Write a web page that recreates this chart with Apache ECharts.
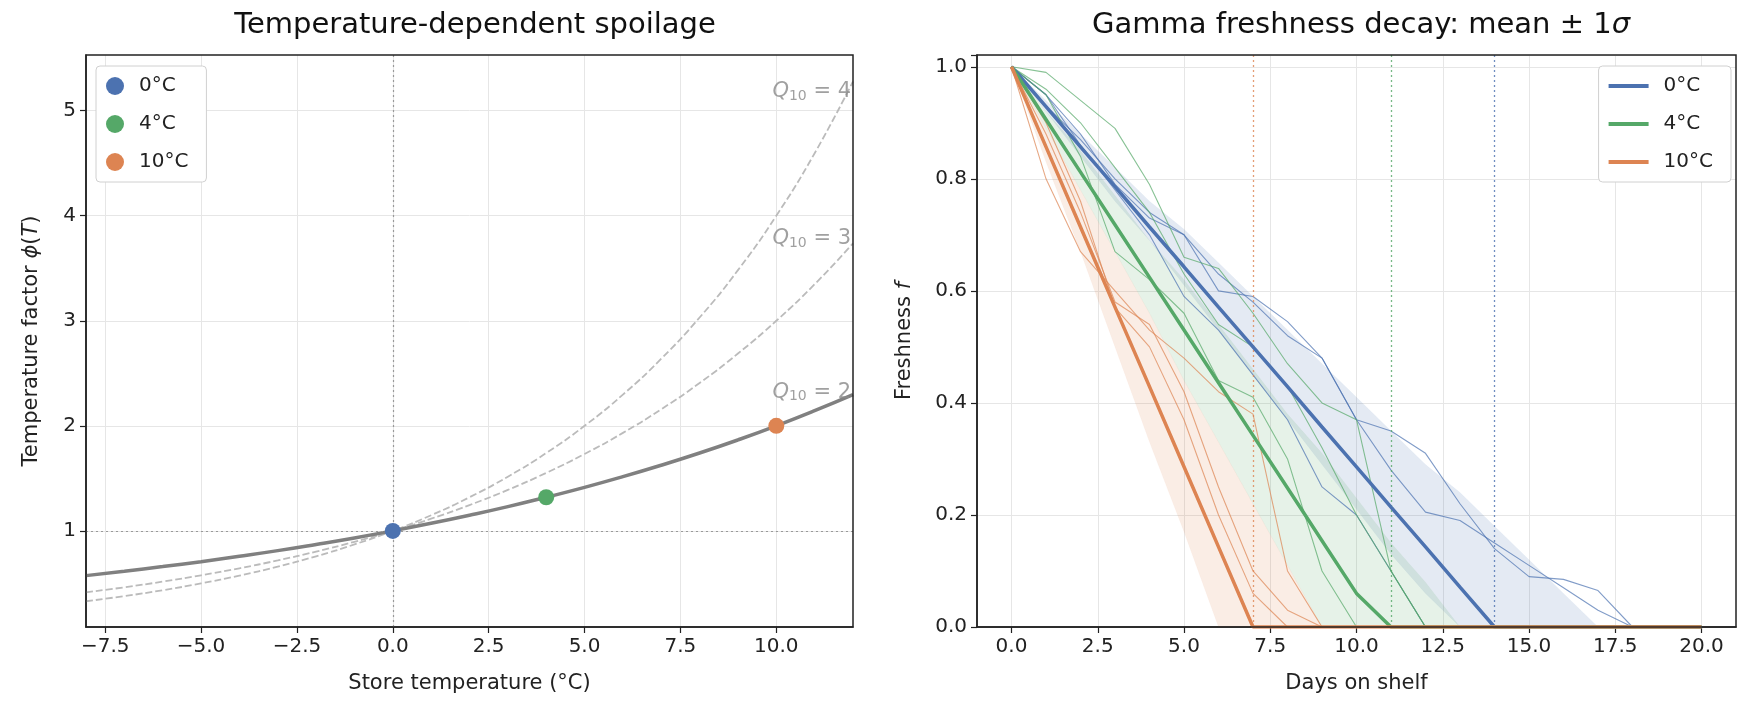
<!DOCTYPE html>
<html><head><meta charset="utf-8">
<script src="https://cdn.jsdelivr.net/npm/echarts@6/dist/echarts.min.js"></script>
<style>html,body{margin:0;padding:0;background:#fff}#c{width:1761px;height:722px}</style>
</head><body><div id="c"></div>
<script>
const temps = [-8,-7,-6,-5,-4,-3,-2,-1,0,1,2,3,4,5,6,7,8,9,10,11,12];
const q2 = [0.574,0.616,0.660,0.707,0.758,0.812,0.871,0.933,1,1.072,1.149,1.231,1.320,1.414,1.516,1.625,1.741,1.866,2,2.144,2.297];
const q3 = [0.415,0.463,0.517,0.577,0.644,0.719,0.803,0.896,1,1.116,1.246,1.390,1.552,1.732,1.933,2.158,2.408,2.688,3,3.348,3.737];
const q4 = [0.330,0.379,0.435,0.5,0.574,0.660,0.758,0.871,1,1.149,1.320,1.516,1.741,2,2.297,2.639,3.031,3.482,4,4.595,5.278];
const storeTemps = [0,4,10];
const storeFactor = [1,1.32,2];
const names = ['0°C','4°C','10°C'];
const colors = ['#4c72b0','#55a868','#dd8452'];
const leftXTicks = [-7.5,-5,-2.5,0,2.5,5,7.5,10];
const leftYTicks = [1,2,3,4,5];
const rightXTicks = [0,2.5,5,7.5,10,12.5,15,17.5,20];
const days = [0,1,2,3,4,5,6,7,8,9,10,11,12,13,14,15,16,17,18,19,20];
const meanF = [
 [1,.929,.857,.786,.714,.643,.571,.5,.429,.357,.286,.214,.143,.071,0,0,0,0,0,0,0],
 [1,.906,.812,.718,.624,.53,.436,.342,.248,.154,.06,0,0,0,0,0,0,0,0,0,0],
 [1,.857,.714,.571,.429,.286,.143,0,0,0,0,0,0,0,0,0,0,0,0,0,0]];
const upperF = [
 [1,.94,.88,.82,.76,.71,.65,.59,.53,.47,.41,.35,.29,.24,.18,.12,.06,0,0,0,0],
 [1,.92,.85,.77,.69,.62,.54,.46,.38,.31,.23,.15,.08,0,0,0,0,0,0,0,0],
 [1,.89,.78,.67,.56,.44,.33,.22,.11,0,0,0,0,0,0,0,0,0,0,0,0]];
const lowerF = [
 [1,.92,.84,.76,.69,.61,.53,.45,.37,.29,.21,.13,.06,0,0,0,0,0,0,0,0],
 [1,.89,.78,.67,.56,.44,.33,.22,.11,0,0,0,0,0,0,0,0,0,0,0,0],
 [1,.83,.67,.5,.33,.17,0,0,0,0,0,0,0,0,0,0,0,0,0,0,0]];
const samplesF = [
 [[1,.95,.88,.79,.73,.70,.60,.59,.545,.48,.37,.35,.31,.22,.14,.09,.085,.065,0,0,0],
  [1,.93,.87,.80,.74,.70,.63,.58,.52,.48,.37,.28,.205,.19,.15,.11,.07,.03,0,0,0],
  [1,.95,.86,.78,.70,.59,.53,.45,.37,.25,.20,.10,0,0,0,0,0,0,0,0,0]],
 [[1,.99,.94,.89,.79,.66,.64,.56,.47,.40,.37,.10,0,0,0,0,0,0,0,0,0],
  [1,.96,.90,.82,.74,.63,.54,.50,.43,.32,.20,.10,0,0,0,0,0,0,0,0,0],
  [1,.95,.84,.67,.62,.56,.44,.41,.30,.10,0,0,0,0,0,0,0,0,0,0,0]],
 [[1,.80,.67,.60,.53,.48,.42,.38,.10,0,0,0,0,0,0,0,0,0,0,0,0],
  [1,.88,.74,.58,.54,.42,.25,.10,.03,0,0,0,0,0,0,0,0,0,0,0,0],
  [1,.90,.76,.57,.50,.37,.20,.06,0,0,0,0,0,0,0,0,0,0,0,0,0]]];
const shelfLife = [14,11,7];
const qLabels = [{t:'4',x:11.95,y:5.18},{t:'3',x:11.95,y:3.78},{t:'2',x:11.95,y:2.32}];

const FONT = 'DejaVu Sans';
const fmtMinus = v => (v<0?'\u2212':'') + Math.abs(v).toFixed(1);
const gridLine = {show:true, lineStyle:{color:'#e6e6e6', width:1}};
const axisLine = {show:true, onZero:false, lineStyle:{color:'#222', width:1.5}};
const tick = {show:true, length:6, lineStyle:{color:'#222', width:1.2}};
const lbl = {color:'#222', fontSize:20, fontFamily:FONT, margin:10};
const NS = {fontSize:21, fontFamily:FONT, color:'#222'};

const series = [];
series.push({type:'line', xAxisIndex:0, yAxisIndex:0, data:temps.map((t,i)=>[t,q4[i]]), smooth:true, symbol:'none', lineStyle:{color:'#bbbbbb', width:1.8, type:[7,3]}, z:2});
series.push({type:'line', xAxisIndex:0, yAxisIndex:0, data:temps.map((t,i)=>[t,q3[i]]), smooth:true, symbol:'none', lineStyle:{color:'#bbbbbb', width:1.8, type:[7,3]}, z:2});
series.push({type:'line', xAxisIndex:0, yAxisIndex:0, data:temps.map((t,i)=>[t,q2[i]]), smooth:true, symbol:'none', lineStyle:{color:'#808080', width:3.5}, z:3,
  markLine:{silent:true, symbol:'none', label:{show:false}, lineStyle:{color:'#999', type:[2,3], width:1.2},
    data:[{xAxis:0},{yAxis:1}]}});
series.push({type:'scatter', xAxisIndex:0, yAxisIndex:0, symbolSize:0,
  data:qLabels.map(q=>({value:[q.x,q.y], label:{show:true, position:'left', distance:0,
    formatter:'{q|Q}{s|10}{t| = '+q.t+'}',
    rich:{q:{fontSize:21,fontStyle:'italic',color:'#888',fontFamily:FONT},s:{fontSize:14,color:'#888',fontFamily:FONT,verticalAlign:'bottom',padding:[9,0,0,0]},t:{fontSize:21,color:'#888',fontFamily:FONT}}}})), z:4});
names.forEach((n,i)=>{
  series.push({type:'scatter', name:n, xAxisIndex:0, yAxisIndex:0, data:[[storeTemps[i],storeFactor[i]]], symbol:'circle', symbolSize:16, itemStyle:{color:colors[i], opacity:1}, z:6});
});
// bands as polygons
names.forEach((n,i)=>{
  series.push({type:'custom', xAxisIndex:1, yAxisIndex:1, silent:true, z:1,
    data:[0],
    renderItem:(params, api)=>{
      const pts = days.map((d,j)=>api.coord([d,upperF[i][j]]));
      for (let j=days.length-1;j>=0;j--) pts.push(api.coord([days[j],lowerF[i][j]]));
      return {type:'polygon', shape:{points:pts}, style:{fill:colors[i], opacity:0.15, stroke:colors[i], lineWidth:0.8, strokeOpacity:0.3}};
    }});
  samplesF[i].forEach(s=>{
    series.push({type:'line', xAxisIndex:1, yAxisIndex:1, data:days.map((d,j)=>[d,s[j]]), symbol:'none', lineStyle:{color:colors[i], width:1.1, opacity:0.7}, z:2});
  });
});
names.forEach((n,i)=>{
  series.push({type:'line', name:n, xAxisIndex:1, yAxisIndex:1, data:days.map((d,j)=>[d,meanF[i][j]]), symbol:'none', lineStyle:{color:colors[i], width:3.5}, itemStyle:{color:colors[i]}, z:5,
    markLine:{silent:true, symbol:'none', label:{show:false}, lineStyle:{color:colors[i], type:[2,3], width:1.3, opacity:0.8}, data:[{xAxis:shelfLife[i]}]}});
});

const legendCommon = {orient:'vertical', backgroundColor:'#fff', borderColor:'#d0d0d0', borderWidth:1, borderRadius:4,
  padding:[10,18,10,10], itemGap:18, textStyle:{fontSize:20, fontFamily:FONT, color:'#222', padding:[0,0,0,10]}};
const opt = {
  animation:false,
  title:[
    {text:'Temperature-dependent spoilage', left:470, top:6, textAlign:'center', textStyle:{fontSize:29, fontWeight:'normal', fontFamily:FONT, color:'#111'}},
    {text:'{a|Gamma freshness decay: mean ± 1}{b|σ}', left:1356, top:6, textAlign:'center', textStyle:{fontWeight:'normal', rich:{a:{fontSize:29,fontWeight:'normal',fontFamily:FONT,color:'#111'},b:{fontSize:29,fontWeight:'normal',fontFamily:FONT,fontStyle:'italic',color:'#111'}}}}
  ],
  legend:[
    Object.assign({}, legendCommon, {data:names.map(n=>({name:n, icon:'circle'})), left:96, top:66, itemWidth:18, itemHeight:18}),
    Object.assign({}, legendCommon, {data:names.map(n=>({name:n, icon:'rect'})), right:30, top:66, itemWidth:40, itemHeight:4})
  ],
  grid:[
    {left:86, top:55, width:767, height:572, containLabel:false},
    {left:977, top:55, width:759, height:572, containLabel:false}
  ],
  xAxis:[
    {type:'value', gridIndex:0, min:-8, max:12, axisLine, axisTick:Object.assign({customValues:leftXTicks},tick),
      axisLabel:Object.assign({customValues:leftXTicks, formatter:fmtMinus},lbl), splitLine:gridLine,
      name:'Store temperature (°C)', nameLocation:'middle', nameGap:46, nameTextStyle:NS},
    {type:'value', gridIndex:1, min:-1, max:21, axisLine, axisTick:Object.assign({customValues:rightXTicks},tick),
      axisLabel:Object.assign({customValues:rightXTicks, formatter:v=>v.toFixed(1)},lbl), splitLine:gridLine,
      name:'Days on shelf', nameLocation:'middle', nameGap:46, nameTextStyle:NS}
  ],
  yAxis:[
    {type:'value', gridIndex:0, min:0.085, max:5.53, axisLine, axisTick:Object.assign({customValues:leftYTicks},tick),
      axisLabel:Object.assign({customValues:leftYTicks, formatter:v=>String(Math.round(v))},lbl), splitLine:gridLine,
      name:'{a|Temperature factor }{b|ϕ}{a|(}{b|T}{a|)}', nameLocation:'middle', nameGap:44,
      nameTextStyle:{rich:{a:NS,b:Object.assign({fontStyle:'italic'},NS)}}},
    {type:'value', gridIndex:1, min:0, max:1.021, interval:0.2, axisLine, axisTick:tick,
      axisLabel:Object.assign({formatter:v=>v>1.01?'':v.toFixed(1)},lbl), splitLine:gridLine,
      name:'{a|Freshness }{b|f}', nameLocation:'middle', nameGap:62,
      nameTextStyle:{rich:{a:NS,b:Object.assign({fontStyle:'italic'},NS)}}}
  ],
  series
};
opt.graphic = [
  {type:'rect', shape:{x:86,y:55,width:767,height:572}, style:{fill:'none', stroke:'#222', lineWidth:1.5}, silent:true, z:100},
  {type:'rect', shape:{x:977,y:55,width:759,height:572}, style:{fill:'none', stroke:'#222', lineWidth:1.5}, silent:true, z:100}
];
echarts.init(document.getElementById('c')).setOption(opt);
</script></body></html>
